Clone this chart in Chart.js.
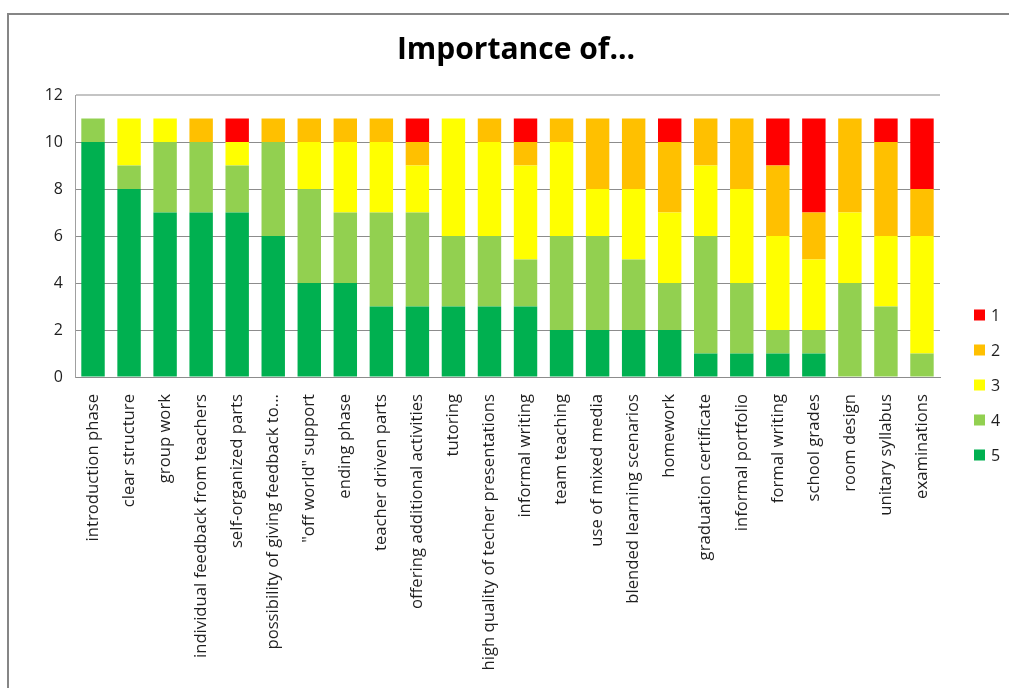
<!DOCTYPE html>
<html>
<head>
<meta charset="utf-8">
<title>Importance of...</title>
<script src="https://cdn.jsdelivr.net/npm/chart.js@4/dist/chart.umd.min.js"></script>
<style>
  html, body { margin: 0; padding: 0; background: #ffffff; }
  #wrap { position: relative; width: 1009px; height: 688px; overflow: hidden; }
  #frame {
    position: absolute; left: 7px; top: 13px; width: 1100px; height: 800px;
    border-left: 2px solid #868686; border-top: 2px solid #868686;
    box-sizing: border-box;
  }
  #chart { position: absolute; left: 0; top: 0; }
</style>
</head>
<body>
<div id="wrap">
  <div id="frame"></div>
  <canvas id="chart" width="1009" height="688"></canvas>
</div>
<script>
// Survey items, ordered by the number of "5" answers
const categories = [
  'introduction phase', 'clear structure', 'group work',
  'individual feedback from teachers', 'self-organized parts',
  'possibility of giving feedback to...', '"off world" support', 'ending phase',
  'teacher driven parts', 'offering additional activities', 'tutoring',
  'high quality of techer presentations', 'informal writing', 'team teaching',
  'use of mixed media', 'blended learning scenarios', 'homework',
  'graduation certificate', 'informal portfolio', 'formal writing',
  'school grades', 'room design', 'unitary syllabus', 'examinations'
];

// Number of answers per rating (5 = most important, 1 = least)
const rating5 = [10, 8, 7, 7, 7, 6, 4, 4, 3, 3, 3, 3, 3, 2, 2, 2, 2, 1, 1, 1, 1, 0, 0, 0];
const rating4 = [1, 1, 3, 3, 2, 4, 4, 3, 4, 4, 3, 3, 2, 4, 4, 3, 2, 5, 3, 1, 1, 4, 3, 1];
const rating3 = [0, 2, 1, 0, 1, 0, 2, 3, 3, 2, 5, 4, 4, 4, 2, 3, 3, 3, 4, 4, 3, 3, 3, 5];
const rating2 = [0, 0, 0, 1, 0, 1, 1, 1, 1, 1, 0, 1, 1, 1, 3, 3, 3, 2, 3, 3, 2, 4, 4, 2];
const rating1 = [0, 0, 0, 0, 1, 0, 0, 0, 0, 1, 0, 0, 1, 0, 0, 0, 1, 0, 0, 2, 4, 0, 1, 3];

const yTicks = [0, 2, 4, 6, 8, 10, 12];

const ratingColors = {
  '5': '#00B050',
  '4': '#92D050',
  '3': '#FFFF00',
  '2': '#FFC000',
  '1': '#FF0000'
};

Chart.defaults.font.family = "'Open Sans', 'DejaVu Sans', sans-serif";
Chart.defaults.color = '#1f1f1f';

// Legend on the right, listing ratings 1..5 from top to bottom
const sideLegend = {
  id: 'sideLegend',
  afterDraw(chart) {
    const ctx = chart.ctx;
    const sets = chart.data.datasets.slice().reverse();
    ctx.save();
    ctx.font = "16px 'Open Sans', sans-serif";
    ctx.textBaseline = 'middle';
    ctx.textAlign = 'left';
    sets.forEach((ds, i) => {
      const cy = 315 + i * 35;
      ctx.fillStyle = ds.backgroundColor;
      ctx.fillRect(974, cy - 5.5, 11, 11);
      ctx.fillStyle = '#1f1f1f';
      ctx.fillText(ds.label, 991, cy + 1);
    });
    ctx.restore();
  }
};

const makeSet = (label, values) => ({
  label,
  data: values,
  backgroundColor: ratingColors[label],
  borderWidth: 0,
  categoryPercentage: 1.0,
  barPercentage: 0.65
});

new Chart(document.getElementById('chart'), {
  type: 'bar',
  data: {
    labels: categories,
    datasets: [
      makeSet('5', rating5),
      makeSet('4', rating4),
      makeSet('3', rating3),
      makeSet('2', rating2),
      makeSet('1', rating1)
    ]
  },
  options: {
    responsive: false,
    animation: false,
    layout: { padding: { left: 23, right: 0, top: 0, bottom: 0 } },
    plugins: {
      legend: { display: false },
      tooltip: { enabled: false },
      title: {
        display: true,
        text: 'Importance of...',
        color: '#000000',
        font: { size: 30, weight: 'bold', lineHeight: 1.2 },
        padding: { top: 32, bottom: 27 }
      }
    },
    scales: {
      x: {
        stacked: true,
        grid: { drawOnChartArea: false, drawTicks: false },
        border: { display: true, color: '#8c8c8c', width: 1 },
        ticks: {
          autoSkip: false,
          minRotation: 90,
          maxRotation: 90,
          padding: 17,
          color: '#1f1f1f',
          font: { size: 16.7 }
        },
        afterFit: (s) => { s.height = 311; }
      },
      y: {
        stacked: true,
        min: 0,
        max: 12,
        afterBuildTicks: (s) => { s.ticks = yTicks.map(v => ({ value: v })); },
        grid: {
          drawTicks: false,
          color: (c) => (c.tick && c.tick.value === 12 ? '#c4c4c4' : '#8c8c8c'),
          lineWidth: (c) => (c.tick && c.tick.value === 12 ? 2 : 1)
        },
        border: { display: true, color: '#a0a0a0', width: 1 },
        ticks: { padding: 12, color: '#1f1f1f', font: { size: 16 } },
        afterFit: (s) => { s.width = 52; }
      },
      side: {
        type: 'linear',
        position: 'right',
        display: true,
        grid: { display: false },
        border: { display: false },
        ticks: { display: false },
        afterFit: (s) => { s.width = 69; }
      }
    }
  },
  plugins: [sideLegend]
});
</script>
</body>
</html>
